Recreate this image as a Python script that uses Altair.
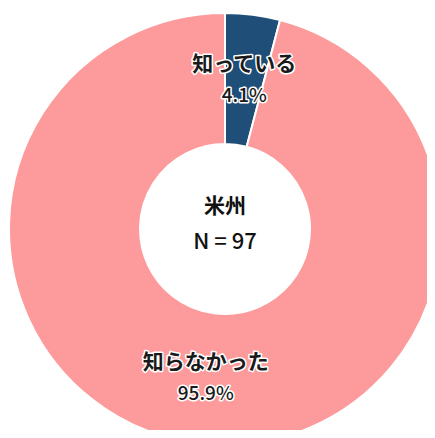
import altair as alt
import pandas as pd

categories = ["知っている", "知らなかった"]
percents = [4.1, 95.9]
pct_labels = ["4.1%", "95.9%"]
colors = ["#1F4E79", "#FD9A9B"]
center_title = "米州"
center_n = "N = 97"

df = pd.DataFrame({"category": categories, "pct": percents, "pct_label": pct_labels,
                   "order": list(range(len(categories)))})

CX, CY = 217, 221
FONT = "Noto Sans CJK JP"

base = alt.Chart(df).encode(
    theta=alt.Theta("pct:Q", stack=True),
    order=alt.Order("order:Q"),
    x=alt.value(CX), y=alt.value(CY),
)

arcs = base.mark_arc(outerRadius=216, innerRadius=85, stroke="white", strokeWidth=2).encode(
    color=alt.Color("category:N", scale=alt.Scale(domain=categories, range=colors), legend=None)
)

def label_layer(field, dy, size, weight):
    halo = base.mark_text(radius=150, dy=dy, font=FONT, fontSize=size, fontWeight=weight,
                          stroke="white", strokeWidth=3, strokeJoin="round", fill="white").encode(
        text=f"{field}:N")
    txt = base.mark_text(radius=150, dy=dy, font=FONT, fontSize=size, fontWeight=weight,
                         fill="#1a1a1a").encode(text=f"{field}:N")
    return halo + txt

cat_lbl = label_layer("category", -15, 21, "bold")
pct_lbl = label_layer("pct_label", 16, 19, 500)

title_txt = alt.Chart(pd.DataFrame({"t": [center_title]})).mark_text(
    font=FONT, fontSize=21, fontWeight="bold", fill="#111111", dy=-22).encode(
    text="t:N", x=alt.value(CX), y=alt.value(CY))
n_txt = alt.Chart(pd.DataFrame({"t": [center_n]})).mark_text(
    font=FONT, fontSize=22, fontWeight=500, fill="#111111", dy=13).encode(
    text="t:N", x=alt.value(CX), y=alt.value(CY))

chart = alt.layer(arcs, cat_lbl, pct_lbl, title_txt, n_txt).properties(
    width=419, height=422, padding=0, autosize=alt.AutoSizeParams(type="none"),
    background="white",
).configure_view(stroke=None)

chart.save("out.html", embed_options={"renderer": "svg", "actions": False})
